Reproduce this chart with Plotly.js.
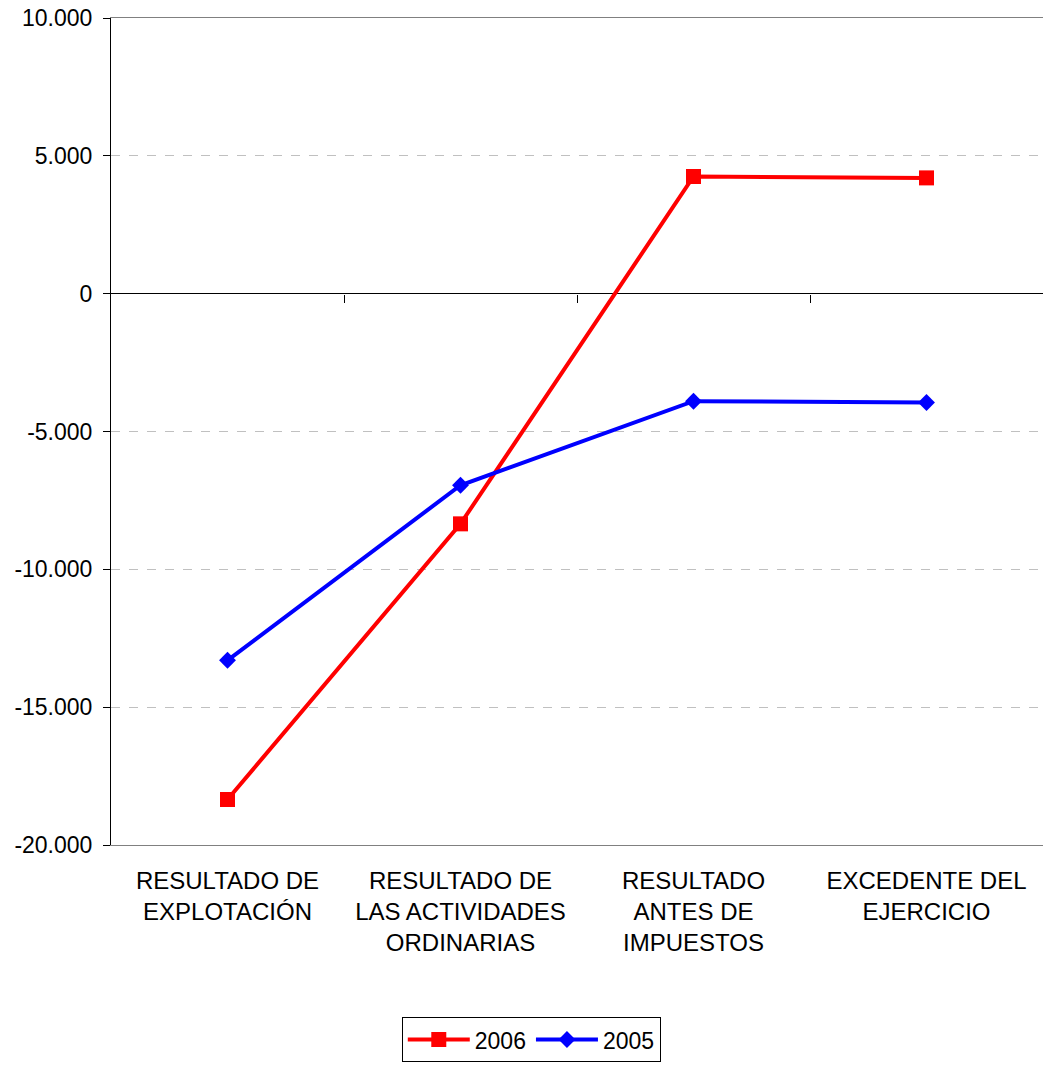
<!DOCTYPE html>
<html>
<head>
<meta charset="utf-8">
<script src="https://cdn.plot.ly/plotly-3.0.1.min.js"></script>
<style>html,body{margin:0;padding:0;background:#fff;}</style>
</head>
<body>
<div id="chart" style="width:1043px;height:1065px;"></div>
<script>
const categories = [
  'RESULTADO DE<br>EXPLOTACIÓN',
  'RESULTADO DE<br>LAS ACTIVIDADES<br>ORDINARIAS',
  'RESULTADO<br>ANTES DE<br>IMPUESTOS',
  'EXCEDENTE DEL<br>EJERCICIO'
];
const values2006 = [-18350, -8350, 4250, 4200];
const values2005 = [-13300, -6950, -3900, -3950];
const yTickVals = [-20000, -15000, -10000, -5000, 0, 5000, 10000];
const yTickText = ['-20.000', '-15.000', '-10.000', '-5.000', '0', '5.000', '10.000'];
const boundaryTicks = [0.5, 1.5, 2.5];

const FONT = 'Liberation Sans, Arial, sans-serif';
const xIdx = categories.map((c, i) => i);

const traces = [
  {
    x: xIdx, y: values2006, name: '2006', type: 'scatter', mode: 'lines+markers',
    line: {color: '#ff0000', width: 4},
    marker: {symbol: 'square', size: 15, color: '#ff0000'}
  },
  {
    x: xIdx, y: values2005, name: '2005', type: 'scatter', mode: 'lines+markers',
    line: {color: '#0000ff', width: 4},
    marker: {symbol: 'diamond', size: 13, color: '#0000ff'}
  },
  {
    x: boundaryTicks, y: boundaryTicks.map(() => 0), xaxis: 'x2', type: 'scatter',
    mode: 'none', showlegend: false, hoverinfo: 'skip'
  }
];

const layout = {
  width: 1043, height: 1065,
  margin: {l: 111, r: 0, t: 18, b: 220, autoexpand: false},
  paper_bgcolor: '#fff', plot_bgcolor: '#fff',
  font: {family: FONT, size: 23, color: '#000'},
  showlegend: true,
  legend: {
    orientation: 'h', x: 0.312, xanchor: 'left', y: -0.2625, yanchor: 'bottom',
    bordercolor: '#000', borderwidth: 1, bgcolor: '#fff',
    font: {family: FONT, size: 23, color: '#000'},
    itemwidth: 62, tracegroupgap: 0
  },
  xaxis: {
    range: [-0.5, 3.5], tickmode: 'array', tickvals: xIdx, ticktext: categories,
    showgrid: false, zeroline: false, ticks: '', showline: true,
    linecolor: '#808080', linewidth: 1, mirror: true,
    ticklabelstandoff: 14, tickfont: {family: FONT, size: 24, color: '#000'}
  },
  xaxis2: {
    range: [-0.5, 3.5], overlaying: 'x', anchor: 'free', position: 2/3,
    tickmode: 'array', tickvals: boundaryTicks, showticklabels: false,
    ticks: 'outside', ticklen: 8, tickcolor: '#000', tickwidth: 1,
    showgrid: false, zeroline: false, showline: false
  },
  yaxis: {
    range: [-20000, 10000], tickmode: 'array', tickvals: yTickVals, ticktext: yTickText,
    showgrid: true, gridcolor: '#c0c0c0', griddash: 'dash', gridwidth: 1,
    zeroline: true, zerolinecolor: '#000', zerolinewidth: 1,
    showline: true, linecolor: '#000', linewidth: 1,
    ticks: 'outside', ticklen: 7, tickcolor: '#000', tickwidth: 1,
    ticklabelstandoff: 6, tickfont: {family: FONT, size: 23, color: '#000'}
  }
};

Plotly.newPlot('chart', traces, layout, {staticPlot: true, displayModeBar: false});
</script>
</body>
</html>
